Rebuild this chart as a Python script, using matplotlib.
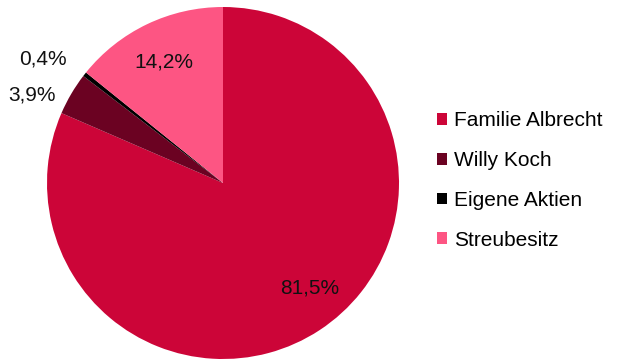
import numpy as np
import matplotlib.pyplot as plt
from matplotlib.patches import Patch

plt.rcParams['font.family'] = ['Liberation Sans', 'DejaVu Sans']

# Aktionärsstruktur
names = ['Familie Albrecht', 'Willy Koch', 'Eigene Aktien', 'Streubesitz']
shares = [81.5, 3.9, 0.4, 14.2]
labels = ['81,5%', '3,9%', '0,4%', '14,2%']
colors = ['#CC0538', '#6B0222', '#000000', '#FD5583']
label_dist = [0.76, 1.2, 1.25, 0.78]
label_shift = [7, 5, 3, 0]  # degrees, nudges the outside labels

fig = plt.figure(figsize=(6.21, 3.61), dpi=100)
cx, cy, r = 223, 183, 176
ax = fig.add_axes([(cx - r) / 621, (361 - cy - r) / 361, 2 * r / 621, 2 * r / 361])

wedges, _ = ax.pie(shares, colors=colors, startangle=90, counterclock=False,
                   wedgeprops=dict(linewidth=0))
ax.set_xlim(-1, 1)
ax.set_ylim(-1, 1)
ax.set_aspect('equal')

for w, lab, d, s in zip(wedges, labels, label_dist, label_shift):
    mid = np.deg2rad((w.theta1 + w.theta2) / 2 + s)
    ax.text(d * np.cos(mid), d * np.sin(mid) - 0.015, lab, ha='center', va='center',
            fontsize=15, color='#111111', clip_on=False)

handles = [Patch(facecolor=c, edgecolor='none') for c in colors]
fig.legend(handles, names, loc='center left', bbox_to_anchor=(0.703, 0.50),
           frameon=False, fontsize=15, handlelength=0.5, handleheight=0.5,
           handletextpad=0.35, labelspacing=1.0, borderpad=0, borderaxespad=0)

fig.savefig('out.png', dpi=100)
